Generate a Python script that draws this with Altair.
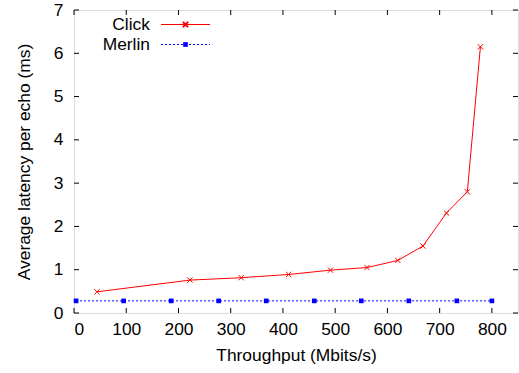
import altair as alt
import pandas as pd

click_x = [44, 222, 320, 411, 491, 561, 620, 668, 713, 753, 778]
click_y = [0.49, 0.76, 0.815, 0.89, 0.99, 1.05, 1.215, 1.546, 2.31, 2.8, 6.15]
merlin_x = [4, 95, 186, 277, 368, 460, 550, 641, 733, 800]
merlin_y = [0.28] * len(merlin_x)
x_ticks = [0, 100, 200, 300, 400, 500, 600, 700, 800]
y_ticks = [0, 1, 2, 3, 4, 5, 6, 7]
series = ["Click", "Merlin"]
colors = ["#ff0000", "#0000ff"]

W, H = 444, 303
FONT = "Liberation Sans"
FS = 17.4
XPATH = "M-1,-1L1,1M-1,1L1,-1"

click = pd.DataFrame({"x": click_x, "y": click_y})
merlin = pd.DataFrame({"x": merlin_x, "y": merlin_y})
xt = pd.DataFrame({"v": x_ticks})
yt = pd.DataFrame({"v": y_ticks})

xs = alt.Scale(domain=[0, 850], nice=False, zero=False)
ys = alt.Scale(domain=[0, 7], nice=False, zero=False)

xaxis = alt.Axis(values=x_ticks, grid=False, domain=False, ticks=False, labelFont=FONT,
                 labelFontSize=FS, labelColor="black", labelPadding=7, title="Throughput (Mbits/s)",
                 titleFont=FONT, titleFontSize=FS, titleFontWeight="normal", titleColor="black",
                 titlePadding=9)
yaxis = alt.Axis(values=y_ticks, grid=False, domain=False, ticks=False, labelFont=FONT,
                 labelFontSize=FS, labelColor="black", labelPadding=11,
                 title="Average latency per echo (ms)", titleFont=FONT, titleFontSize=FS,
                 titleFontWeight="normal", titleColor="black", titlePadding=20)

base_click = alt.Chart(click)
click_line = base_click.mark_line(color=colors[0], strokeWidth=1).encode(
    x=alt.X("x:Q", scale=xs, axis=xaxis), y=alt.Y("y:Q", scale=ys, axis=yaxis))
click_pts = base_click.mark_point(shape=XPATH, size=28, color=colors[0], filled=False,
                                  strokeWidth=1, opacity=1).encode(
    x=alt.X("x:Q", scale=xs), y=alt.Y("y:Q", scale=ys))

base_m = alt.Chart(merlin)
m_line = base_m.mark_line(color=colors[1], strokeWidth=1, strokeDash=[2, 2]).encode(
    x=alt.X("x:Q", scale=xs), y=alt.Y("y:Q", scale=ys))
m_pts = base_m.mark_square(size=22, color=colors[1], opacity=1).encode(
    x=alt.X("x:Q", scale=xs), y=alt.Y("y:Q", scale=ys))

tk = 5
xt_bot = alt.Chart(xt).mark_rule(color="black").encode(
    x=alt.X("v:Q", scale=xs), y=alt.value(H), y2=alt.value(H - tk))
xt_top = alt.Chart(xt).mark_rule(color="black").encode(
    x=alt.X("v:Q", scale=xs), y=alt.value(0), y2=alt.value(tk))
yt_l = alt.Chart(yt).mark_rule(color="black").encode(
    y=alt.Y("v:Q", scale=ys), x=alt.value(0), x2=alt.value(tk))
yt_r = alt.Chart(yt).mark_rule(color="black").encode(
    y=alt.Y("v:Q", scale=ys), x=alt.value(W), x2=alt.value(W - tk))

# legend (gnuplot style: label right-aligned, sample to its right)
ly = [14.5, 34.5]
leg_text = []
leg_marks = []
for i, name in enumerate(series):
    d = pd.DataFrame({"name": [name]})
    leg_text.append(alt.Chart(d).mark_text(align="right", baseline="middle", font=FONT,
                                           fontSize=FS, color="black").encode(
        text="name:N", x=alt.value(76), y=alt.value(ly[i])))
    if i == 0:
        leg_marks.append(alt.Chart(d).mark_rule(color=colors[0], strokeWidth=1).encode(
            x=alt.value(87), x2=alt.value(136), y=alt.value(ly[i])))
        leg_marks.append(alt.Chart(d).mark_point(shape=XPATH, size=28, color=colors[0],
                                                 filled=False, opacity=1).encode(
            x=alt.value(111.5), y=alt.value(ly[i])))
    else:
        leg_marks.append(alt.Chart(d).mark_rule(color=colors[1], strokeWidth=1,
                                                strokeDash=[2, 2]).encode(
            x=alt.value(87), x2=alt.value(136), y=alt.value(ly[i])))
        leg_marks.append(alt.Chart(d).mark_square(size=22, color=colors[1], opacity=1).encode(
            x=alt.value(111.5), y=alt.value(ly[i])))

chart = alt.layer(m_line, m_pts, click_line, click_pts, xt_bot, xt_top, yt_l, yt_r,
                  *leg_text, *leg_marks).properties(
    width=W, height=H,
    autosize=alt.AutoSizeParams(type="none"),
    padding={"left": 74, "top": 10, "right": 1, "bottom": 60},
).configure_view(stroke="black", strokeWidth=1).configure(background="white")

chart.save("out.html", embed_options={"renderer": "svg", "actions": False})
